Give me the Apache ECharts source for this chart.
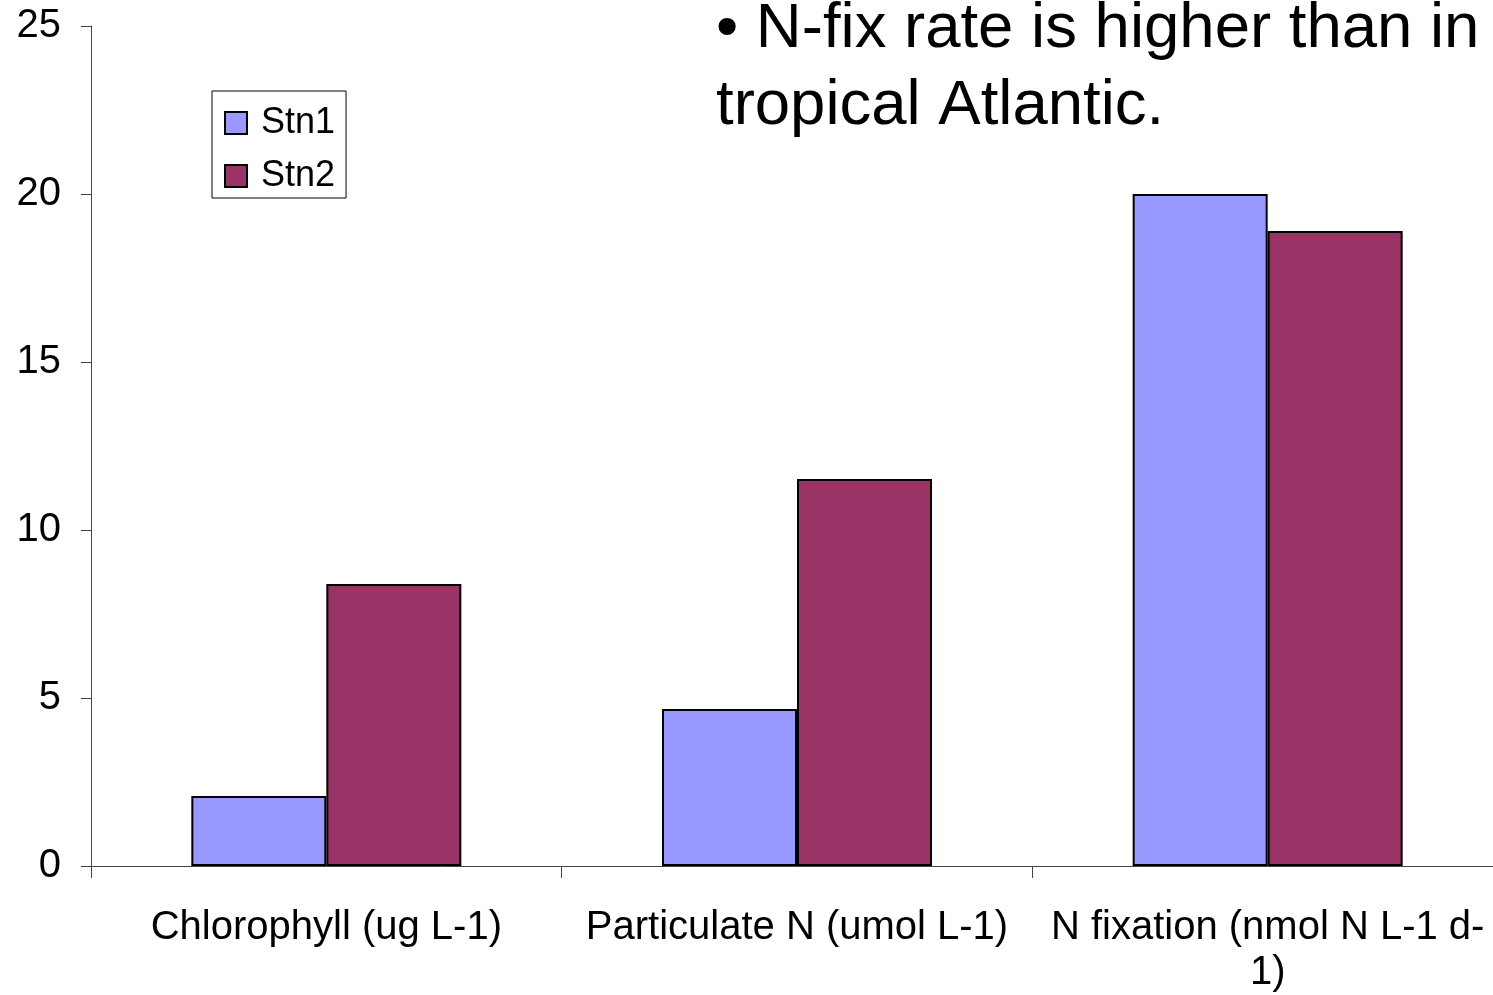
<!DOCTYPE html>
<html><head><meta charset="utf-8">
<script src="https://cdn.jsdelivr.net/npm/echarts@6/dist/echarts.min.js"></script>
<style>html,body{margin:0;padding:0;background:#fff}#c{width:1493px;height:995px}</style>
</head><body><div id="c"></div>
<script>
const categories = ['Chlorophyll (ug L-1)', 'Particulate N (umol L-1)', 'N fixation (nmol N L-1 d-\n1)'];
const seriesNames = ['Stn1', 'Stn2'];
const stn1 = [2.08, 4.67, 20.0];
const stn2 = [8.39, 11.52, 18.9];
const yTicks = [0, 5, 10, 15, 20, 25];
const titleText = '\u2022 N-fix rate is higher than in\ntropical Atlantic.';

const font = 'Liberation Sans, Arial, sans-serif';
const chart = echarts.init(document.getElementById('c'));
chart.setOption({
  animation: false,
  backgroundColor: '#fff',
  title: {
    text: titleText, left: 711, top: -14,
    textStyle: {fontFamily: font, fontSize: 63.5, fontWeight: 'normal', color: '#000', lineHeight: 77}
  },
  legend: {
    orient: 'vertical', left: 212, top: 91,
    padding: [14, 11, 4, 12], itemGap: 17,
    itemWidth: 22, itemHeight: 22,
    borderColor: '#000', borderWidth: 1, backgroundColor: '#fff',
    icon: 'rect',
    textStyle: {fontFamily: font, fontSize: 36, color: '#000', lineHeight: 36, padding: [0,0,0,9]},
    data: seriesNames
  },
  grid: {left: 91, top: 26, width: 1412, height: 840, containLabel: false, outerBoundsMode: 'none'},
  xAxis: {
    type: 'category', data: categories,
    axisLine: {lineStyle: {color: '#444', width: 1}},
    axisTick: {show: true, length: 12, lineStyle: {color: '#444'}},
    axisLabel: {fontFamily: font, fontSize: 40, color: '#000', margin: 39, lineHeight: 45, interval: 0}
  },
  yAxis: {
    type: 'value', min: yTicks[0], max: yTicks[yTicks.length - 1], interval: 5,
    splitLine: {show: false},
    axisLine: {show: true, lineStyle: {color: '#444', width: 1}},
    axisTick: {show: true, length: 10, lineStyle: {color: '#444'}},
    axisLabel: {fontFamily: font, fontSize: 40, color: '#000', margin: 30}
  },
  series: [
    {name: seriesNames[0], type: 'bar', data: stn1, barWidth: 135, barGap: '0%',
     itemStyle: {color: '#9999FF', borderColor: '#000', borderWidth: 2}},
    {name: seriesNames[1], type: 'bar', data: stn2, barWidth: 135, barGap: '0%',
     itemStyle: {color: '#993366', borderColor: '#000', borderWidth: 2}}
  ]
});
</script></body></html>
